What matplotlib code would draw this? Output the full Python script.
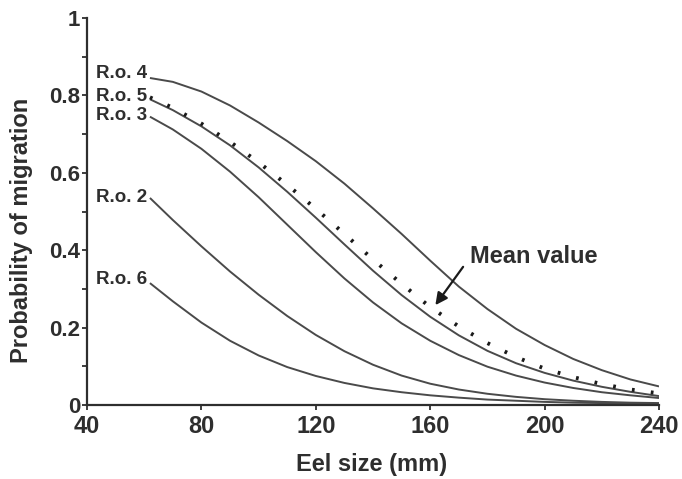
import matplotlib.pyplot as plt

size = [62, 70, 80, 90, 100, 110, 120, 130, 140, 150, 160, 170, 180, 190, 200, 210, 220, 230, 240]

ro4 = [0.845, 0.835, 0.81, 0.774, 0.73, 0.682, 0.63, 0.572, 0.508, 0.442, 0.373, 0.306, 0.248, 0.197, 0.155, 0.119, 0.09, 0.066, 0.048]
ro5 = [0.79, 0.762, 0.72, 0.671, 0.614, 0.551, 0.484, 0.415, 0.347, 0.284, 0.228, 0.18, 0.14, 0.108, 0.083, 0.063, 0.047, 0.034, 0.023]
ro3 = [0.745, 0.712, 0.662, 0.603, 0.537, 0.466, 0.395, 0.327, 0.265, 0.211, 0.166, 0.129, 0.099, 0.076, 0.058, 0.044, 0.033, 0.025, 0.018]
ro2 = [0.535, 0.478, 0.41, 0.345, 0.285, 0.23, 0.181, 0.139, 0.104, 0.076, 0.055, 0.04, 0.029, 0.021, 0.015, 0.011, 0.008, 0.006, 0.005]
ro6 = [0.315, 0.268, 0.213, 0.166, 0.128, 0.098, 0.075, 0.057, 0.043, 0.033, 0.025, 0.019, 0.014, 0.011, 0.008, 0.006, 0.005, 0.004, 0.003]
mean = [0.795, 0.768, 0.727, 0.68, 0.627, 0.569, 0.507, 0.442, 0.376, 0.313, 0.253, 0.203, 0.16, 0.124, 0.094, 0.072, 0.054, 0.04, 0.03]

curve_names = ['R.o. 4', 'R.o. 5', 'R.o. 3', 'R.o. 2', 'R.o. 6']
curves = [ro4, ro5, ro3, ro2, ro6]
label_y = [0.856, 0.797, 0.749, 0.535, 0.323]

x_ticks = [40, 80, 120, 160, 200, 240]
y_ticks = [0, 0.2, 0.4, 0.6, 0.8, 1]
y_tick_labels = ['0', '0.2', '0.4', '0.6', '0.8', '1']

plt.rcParams['font.family'] = ['Liberation Sans', 'DejaVu Sans']
plt.rcParams['font.weight'] = 'bold'
text_col = '#2e2e2e'
line_col = '#4a4a4a'

fig = plt.figure(figsize=(6.82, 4.79), dpi=100)
ax = fig.add_axes([0.1276, 0.1545, 0.8387, 0.8079])

for name, vals, ly in zip(curve_names, curves, label_y):
    ax.plot(size, vals, color=line_col, lw=1.4, solid_capstyle='butt')
    ax.text(61, ly, name, ha='right', va='center', fontsize=13.5,
            fontweight='bold', color=text_col)

# mean value as dotted line
ax.plot(size, mean, color='#1a1a1a', lw=2.8, linestyle=(0, (0.7, 4.2)))

ax.annotate('', xy=(161.8, 0.258), xytext=(171.5, 0.357),
            arrowprops=dict(arrowstyle='-|>', color='#1a1a1a', lw=1.6,
                            mutation_scale=18, shrinkA=0, shrinkB=0))
ax.text(174, 0.383, 'Mean value', ha='left', va='center', fontsize=17,
        fontweight='bold', color=text_col)

ax.set_xlim(40, 240)
ax.set_ylim(0, 1)
ax.set_xticks(x_ticks)
ax.set_yticks(y_ticks)
ax.set_yticklabels(y_tick_labels)
ax.set_yticks([0.1, 0.3, 0.5, 0.7, 0.9], minor=True)
ax.tick_params(axis='y', which='both', direction='out', length=3.5, width=1.3,
               pad=1.5, labelsize=16, colors=text_col)
ax.tick_params(axis='x', direction='out', length=3.5, width=1.3, pad=4,
               labelsize=17, colors=text_col)
for lab in ax.get_xticklabels() + ax.get_yticklabels():
    lab.set_fontweight('bold')

ax.spines['top'].set_visible(False)
ax.spines['right'].set_visible(False)
ax.spines['left'].set_linewidth(1.6)
ax.spines['bottom'].set_linewidth(1.6)
ax.spines['left'].set_color(text_col)
ax.spines['bottom'].set_color(text_col)

ax.set_xlabel('Eel size (mm)', fontsize=17, fontweight='bold', color=text_col)
ax.set_ylabel('Probability of migration', fontsize=17, fontweight='bold', color=text_col)
ax.xaxis.set_label_coords(0.498, -0.125)
ax.yaxis.set_label_coords(-0.094, 0.45)

plt.savefig('out.png', dpi=100)
